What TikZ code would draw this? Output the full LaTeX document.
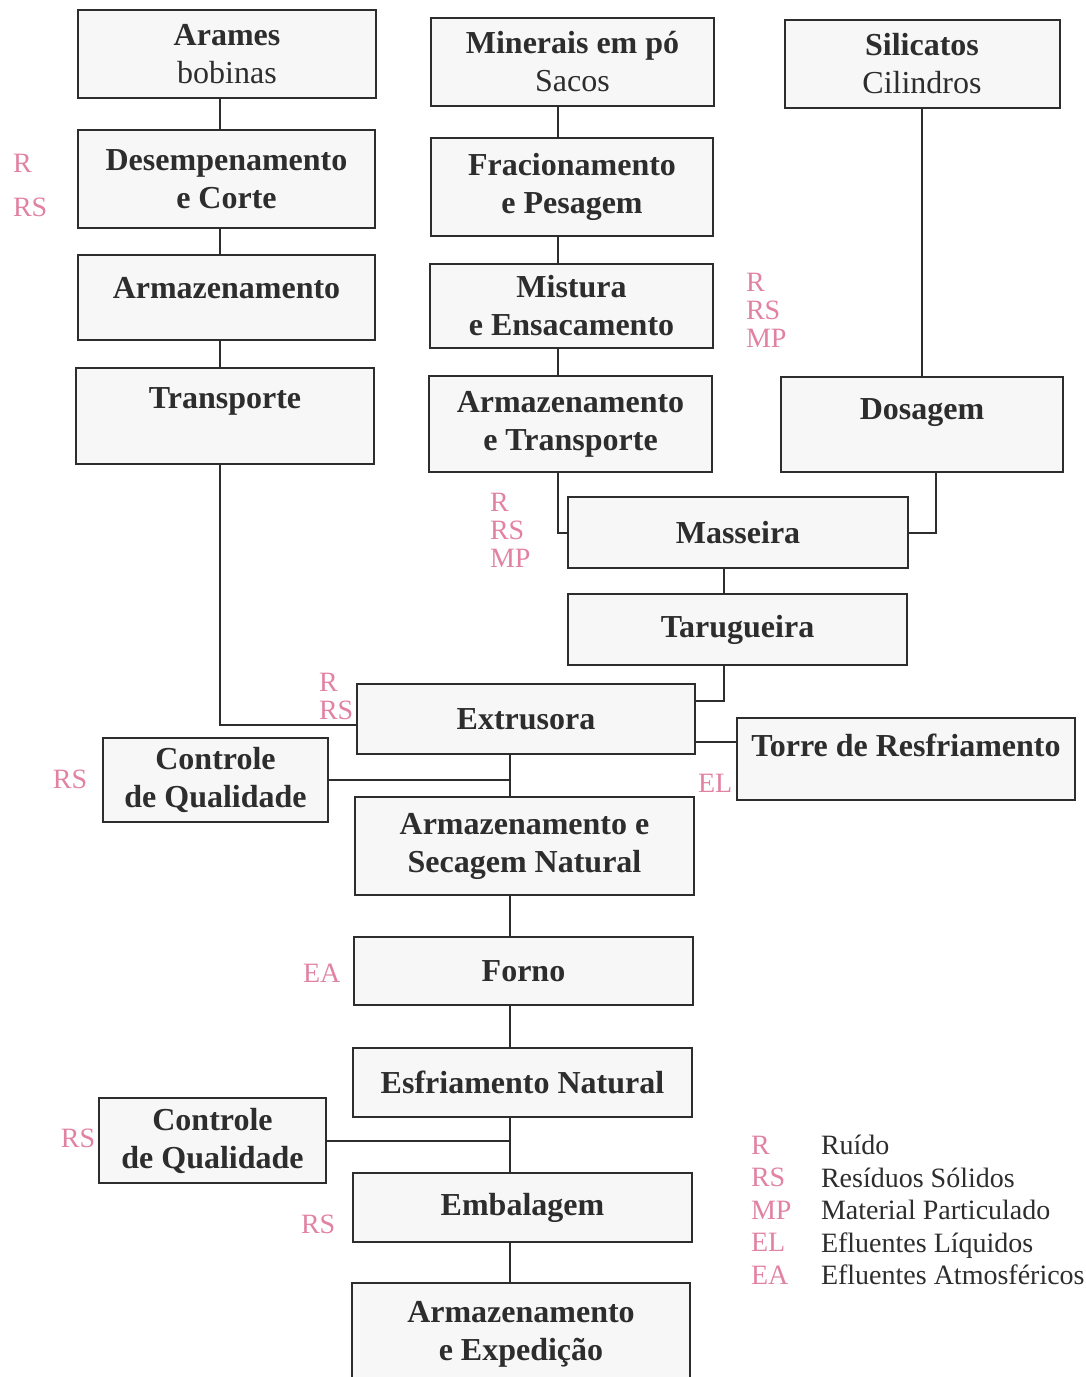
\documentclass[tikz,border=0pt]{standalone}
\usepackage{fontspec}
\setmainfont{Liberation Serif}
\definecolor{pinkish}{RGB}{226,130,162}
\definecolor{ink}{RGB}{45,45,45}
\tikzset{
  every picture/.style={
    x=0.5pt, y=-0.5pt, line width=1pt
  },
  proc/.style={
    draw=ink, fill=gray!6, align=center, inner sep=2pt,
    text=ink, font=\fontsize{16}{19}\selectfont\bfseries
  },
  sz/.style 2 args={
    minimum width=#1*0.5pt, minimum height=#2*0.5pt
  },
  up/.style={text depth=#1pt},
  tag/.style={
    text=pinkish, anchor=west, align=left, inner sep=0pt,
    font=\fontsize{14}{14}\selectfont
  },
  link/.style={draw=ink}
}

\begin{document}
\begin{tikzpicture}
  \useasboundingbox (0,0) rectangle (1086,1377);
  % left column
  \node[proc, sz={298}{88}] (arames) at (227,54) {Arames\\{\mdseries bobinas}};
  \node[proc, sz={297}{98}] (desemp) at (226.5,179) {Desempenamento\\e Corte};
  \node[proc, sz={297}{85}, up=10] (armaz) at (226.5,297.5) {Armazenamento};
  \node[proc, sz={298}{96}, up=18] (transp) at (225,416) {Transporte};
  % middle column
  \node[proc, sz={283}{88}] (miner) at (572.5,62) {Minerais em pó\\{\mdseries Sacos}};
  \node[proc, sz={282}{98}] (fracio) at (572,187) {Fracionamento\\e Pesagem};
  \node[proc, sz={283}{84}] (mistura) at (571.5,306) {Mistura\\e Ensacamento};
  \node[proc, sz={283}{96}] (armtr) at (570.5,424) {Armazenamento\\e Transporte};
  % right column
  \node[proc, sz={275}{88}] (silic) at (922,64) {Silicatos\\{\mdseries Cilindros}};
  \node[proc, sz={282}{95}, up=15] (dosag) at (922,424.5) {Dosagem};
  \node[proc, sz={340}{71}] (mass) at (738,532.5) {Masseira};
  \node[proc, sz={339}{71}] (tarug) at (737.5,629.5) {Tarugueira};
  % lower part
  \node[proc, sz={338}{70}] (extr) at (526,719) {Extrusora};
  \node[proc, sz={338}{82}, up=14] (torre) at (906,759) {Torre de Resfriamento};
  \node[proc, sz={225}{84}] (contr1) at (215.5,780) {Controle\\de Qualidade};
  \node[proc, sz={339}{98}] (armsec) at (524.5,846) {Armazenamento e\\Secagem Natural};
  \node[proc, sz={339}{68}] (forno) at (523.5,971) {Forno};
  \node[proc, sz={339}{69}] (esfri) at (522.5,1082.5) {Esfriamento Natural};
  \node[proc, sz={227}{85}] (contr2) at (212.5,1140.5) {Controle\\de Qualidade};
  \node[proc, sz={339}{69}] (embal) at (522.5,1207.5) {Embalagem};
  \node[proc, sz={338}{102}] (armexp) at (521,1334) {Armazenamento\\e Expedição};

  \coordinate (lcol) at (220,0);
  \coordinate (mcol) at (558,0);
  \coordinate (rcol) at (724,0);
  \coordinate (dcol) at (510,0);

  \foreach \a/\b in {arames/desemp, desemp/armaz, armaz/transp}
    \draw[link] (\a.south -| lcol) -- (\b.north -| lcol);
  \foreach \a/\b in {miner/fracio, fracio/mistura, mistura/armtr}
    \draw[link] (\a.south -| mcol) -- (\b.north -| mcol);
  \foreach \a/\b in {extr/armsec, armsec/forno, forno/esfri, esfri/embal, embal/armexp}
    \draw[link] (\a.south -| dcol) -- (\b.north -| dcol);
  \draw[link] (silic.south) -- (silic.south |- dosag.north);
  \draw[link] (armtr.south -| mcol) |- (mass.west);
  \draw[link] ([xshift=7pt]dosag.south) |- (mass.east);
  \draw[link] (mass.south -| rcol) -- (tarug.north -| rcol);
  \draw[link] (tarug.south -| rcol) |- ([yshift=9pt]extr.east);
  \draw[link] ([yshift=-11.5pt]extr.east) -- ([yshift=-11.5pt]extr.east -| torre.west);
  \draw[link] (transp.south -| lcol) |- ([yshift=-3pt]extr.west);
  \draw[link] (contr1.east) -- (contr1.east -| dcol);
  \draw[link] (contr2.east) -- (contr2.east -| dcol);

  % emissions
  \node[tag] (tdes) at (12,185) {R\\[8pt]RS};
  \node[tag] (tmis) at (745,310) {R\\RS\\MP};
  \node[tag] (tarm) at (489,530) {R\\RS\\MP};
  \node[tag] (text) at (318,696) {R\\RS};
  \node[tag] (tco1) at (52,779) {RS};
  \node[tag] (ttor) at (697,783) {EL};
  \node[tag] (tfor) at (302,973) {EA};
  \node[tag] (tco2) at (60,1138) {RS};
  \node[tag] (temb) at (300,1224) {RS};

  % legend
  \node[tag, font=\fontsize{14}{16.25}\selectfont] (leg) at (750,1210) {R\\RS\\MP\\EL\\EA};
  \node[tag, text=ink, font=\fontsize{14}{16.25}\selectfont] (legtxt) at (820,1210)
    {Ruído\\Resíduos Sólidos\\Material Particulado\\Efluentes Líquidos\\Efluentes Atmosféricos};
\end{tikzpicture}
\end{document}
